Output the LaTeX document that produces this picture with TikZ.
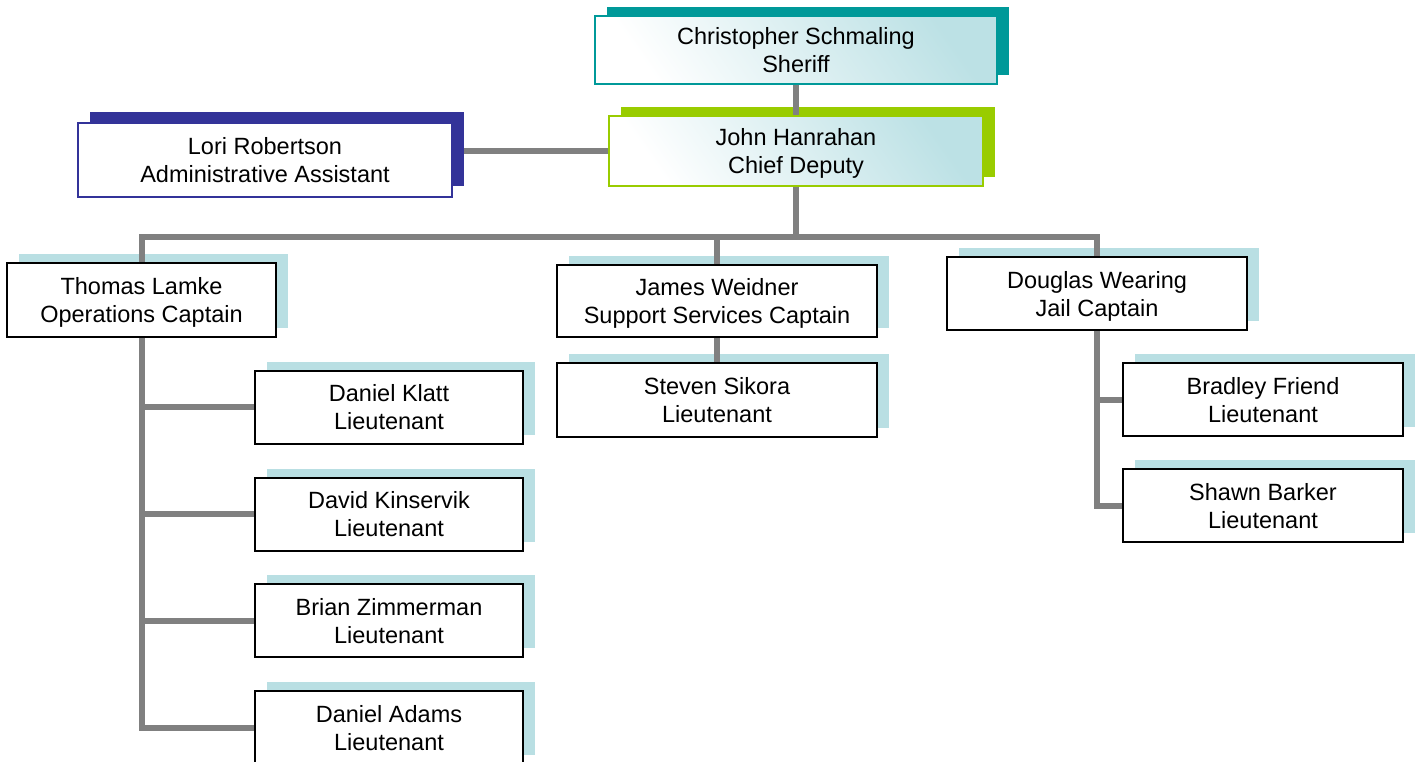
\documentclass[tikz,border=0pt]{standalone}
\usepackage{fontspec}
\setmainfont{Liberation Sans}
\usetikzlibrary{shadows}
\definecolor{tealline}{HTML}{009999}
\definecolor{greenline}{HTML}{99CC00}
\definecolor{navyline}{HTML}{333399}
\definecolor{paleblue}{HTML}{B9DFE3}
\definecolor{glow}{HTML}{BCE1E5}
\definecolor{linkgray}{HTML}{808080}
\tikzset{
  post/.style={line width=2pt, inner sep=0pt, align=center,
    font=\fontsize{23.5}{28}\selectfont, text depth=0pt},
  lowpost/.style={post, draw=black, fill=white, minimum width=268pt, minimum height=73pt,
    general shadow={fill=paleblue, shadow xshift=12pt, shadow yshift=9pt}},
  toppost/.style={post, draw=#1, top color=glow, middle color=white!75!glow, bottom color=white,
    shading angle=-55,
    general shadow={fill=#1, shadow xshift=12pt, shadow yshift=9pt}},
  link/.style={draw=linkgray, line width=6pt},
}
\begin{document}
\begin{tikzpicture}[x=1pt, y=-1pt]
  \useasboundingbox (0,0) rectangle (1418,762);

  % top of the chart
  \node [toppost=tealline, minimum width=402pt, minimum height=68pt] (sheriff) at (796,50)
    {Christopher Schmaling\\Sheriff};
  \node [toppost=greenline, minimum width=374pt, minimum height=70pt] (chief) at (796,151)
    {John Hanrahan\\Chief Deputy};
  \node [post, draw=navyline, fill=white, minimum width=374pt, minimum height=74pt,
    general shadow={fill=navyline, shadow xshift=12pt, shadow yshift=11pt}] (lori) at (265,160)
    {Lori Robertson\\Administrative Assistant};
  \coordinate (lorishadow) at ([xshift=11pt]lori.east);
  \coordinate (bus) at (796,237);

  % captains
  \node [lowpost, minimum width=269pt, minimum height=74pt] (thomas) at (141.5,300)
    {Thomas Lamke\\Operations Captain};
  \node [lowpost, minimum width=320pt, minimum height=72pt] (james) at (717,301)
    {James Weidner\\Support Services Captain};
  \node [lowpost, minimum width=300pt] (douglas) at (1097,293.5)
    {Douglas Wearing\\Jail Captain};

  % lieutenants
  \node [lowpost] (klatt) at (389,407) {Daniel Klatt\\Lieutenant};
  \node [lowpost] (kinservik) at (389,514) {David Kinservik\\Lieutenant};
  \node [lowpost] (zimmerman) at (389,620.5) {Brian Zimmerman\\Lieutenant};
  \node [lowpost] (adams) at (389,727.5) {Daniel Adams\\Lieutenant};
  \node [lowpost, minimum width=320pt, minimum height=74pt] (steven) at (717,400)
    {Steven Sikora\\Lieutenant};
  \node [lowpost, minimum width=280pt] (bradley) at (1263,399.5) {Bradley Friend\\Lieutenant};
  \node [lowpost, minimum width=280pt] (shawn) at (1263,505.5) {Shawn Barker\\Lieutenant};

  % connectors
  \draw [link] (sheriff.south) -- (chief.north);
  \draw [link] (chief.west) -- (chief.west -| lorishadow);
  \draw [link] (chief.south) -- (bus);
  \draw [link] (thomas.north) |- (bus) -| (douglas.north);
  \draw [link] (james.north) -- (james.north |- bus);
  \draw [link] (james.south) -- (steven.north);

  \draw [link] (thomas.south) |- (adams.west);
  \foreach \lt in {klatt, kinservik, zimmerman}
    \draw [link] (thomas.south |- \lt.west) -- (\lt.west);

  \draw [link] (douglas.south) |- (shawn.west);
  \draw [link] (douglas.south |- bradley.west) -- (bradley.west);
\end{tikzpicture}
\end{document}
